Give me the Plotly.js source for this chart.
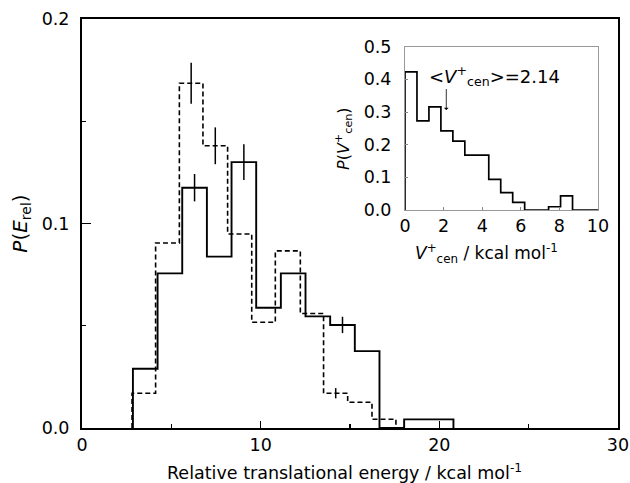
<!DOCTYPE html>
<html><head><meta charset="utf-8">
<script src="https://cdn.plot.ly/plotly-3.0.1.min.js"></script>
<style>html,body{margin:0;padding:0;background:#fff}</style>
</head><body><div id="chart" style="width:630px;height:483px"></div>
<script>
// Main histogram (solid)
const solidEdges = [2.85, 4.23, 5.61, 6.99, 8.37, 9.75, 11.13, 12.51, 13.89, 15.27, 16.65, 18.03, 19.41, 20.79];
const solidValues = [0.029, 0.0756, 0.1175, 0.0838, 0.130, 0.0588, 0.0756, 0.0546, 0.0504, 0.0376, 0, 0.0042, 0.0042];
// Main histogram (dashed)
const dashedEdges = [2.80, 4.12, 5.45, 6.77, 8.15, 9.50, 10.82, 12.22, 13.52, 14.87, 16.23, 17.57];
const dashedValues = [0.017, 0.0905, 0.1686, 0.138, 0.0949, 0.0517, 0.0866, 0.056, 0.017, 0.0126, 0.0043];
// Error bars
const solidErrX = [6.30, 9.06, 14.58];
const solidErrY = [0.1175, 0.130, 0.0504];
const solidErr = [0.0067, 0.0087, 0.004];
const dashedErrX = [6.11, 7.46, 14.20];
const dashedErrY = [0.1686, 0.138, 0.017];
const dashedErr = [0.010, 0.009, 0.0025];
// Inset histogram
const insetEdges = [0, 0.62, 1.24, 1.86, 2.48, 3.10, 3.72, 4.34, 4.96, 5.58, 6.20, 6.82, 7.44, 8.06, 8.68, 10];
const insetValues = [0.423, 0.273, 0.316, 0.242, 0.211, 0.168, 0.168, 0.094, 0.053, 0.0235, 0, 0, 0.010, 0.043, 0];
const meanV = 2.14;
const meanLabel = '&lt;<i>V</i><sup>+</sup><sub>cen</sub>&gt;=2.14';
const xTickVals = [0, 10, 20, 30];
const yTickVals = [0, 0.1, 0.2];

function stepXY(edges, values) {
  return { x: [edges[0]].concat(edges), y: [0].concat(values, [0]) };
}

const FONT = 'DejaVu Sans, Liberation Sans, Arial, sans-serif';
const s = stepXY(solidEdges, solidValues);
const d = stepXY(dashedEdges, dashedValues);
const ins = stepXY(insetEdges, insetValues);

const traces = [
  { x: d.x, y: d.y, mode: 'lines', line: { shape: 'hv', color: '#000', width: 1.6, dash: '5px,3px' }, xaxis: 'x', yaxis: 'y', hoverinfo: 'skip' },
  { x: s.x, y: s.y, mode: 'lines', line: { shape: 'hv', color: '#000', width: 1.9 }, xaxis: 'x', yaxis: 'y', hoverinfo: 'skip' },
  { x: solidErrX, y: solidErrY, mode: 'markers', marker: { size: 1, color: 'rgba(0,0,0,0)' },
    error_y: { type: 'data', array: solidErr, visible: true, color: '#000', thickness: 1.5, width: 0 }, xaxis: 'x', yaxis: 'y' },
  { x: dashedErrX, y: dashedErrY, mode: 'markers', marker: { size: 1, color: 'rgba(0,0,0,0)' },
    error_y: { type: 'data', array: dashedErr, visible: true, color: '#000', thickness: 1.5, width: 0 }, xaxis: 'x', yaxis: 'y' },
  { x: ins.x, y: ins.y, mode: 'lines', line: { shape: 'hv', color: '#000', width: 1.7 }, xaxis: 'x2', yaxis: 'y2', hoverinfo: 'skip' }
];

const layout = {
  width: 630, height: 483,
  margin: { l: 82, r: 12, t: 19, b: 55 },
  paper_bgcolor: '#fff', plot_bgcolor: 'rgba(0,0,0,0)',
  showlegend: false,
  font: { family: FONT, color: '#000', size: 17 },
  xaxis: {
    range: [0, 30], tickvals: xTickVals, ticks: 'inside', ticklen: 7, tickwidth: 1.5, tickcolor: '#000',
    showline: true, linewidth: 2, linecolor: '#000', mirror: true, showgrid: false, zeroline: false,
    tickfont: { family: FONT, size: 17.5 },
    minor: { dtick: 5, ticks: 'inside', ticklen: 4, tickwidth: 1.2, tickcolor: '#000', showgrid: false }
  },
  yaxis: {
    range: [0, 0.2], tickvals: yTickVals, tickformat: '.1f', ticks: 'inside', ticklen: 9, tickwidth: 1.5, tickcolor: '#000',
    showline: true, linewidth: 2, linecolor: '#000', mirror: true, showgrid: false, zeroline: false,
    tickfont: { family: FONT, size: 17.5 }, ticklabelstandoff: 7,
    minor: { dtick: 0.05, ticks: 'inside', ticklen: 4, tickwidth: 1.2, tickcolor: '#000', showgrid: false },
    title: { text: '<i>P</i>(<i>E</i><sub>rel</sub>)', font: { family: FONT, size: 20 }, standoff: 9 }
  },
  xaxis2: {
    domain: [0.6026, 0.9627], anchor: 'y2', range: [0, 10], dtick: 2, ticks: 'inside', ticklen: 3, tickwidth: 1, tickcolor: '#888',
    showline: true, linewidth: 1, linecolor: '#999', mirror: true, showgrid: false, zeroline: false,
    tickfont: { family: FONT, size: 17.5 }
  },
  yaxis2: {
    domain: [0.533, 0.9323], anchor: 'x2', range: [0, 0.5], dtick: 0.1, tickformat: '.1f', ticks: 'inside', ticklen: 3, tickwidth: 1, tickcolor: '#888',
    showline: true, linewidth: 1, linecolor: '#999', mirror: true, showgrid: false, zeroline: false,
    tickfont: { family: FONT, size: 17.5 }, ticklabelstandoff: 9
  },
  annotations: [
    { xref: 'paper', yref: 'paper', x: (344 - 82) / 536, y: (428 - 472) / 409, xanchor: 'center', yanchor: 'middle',
      text: 'Relative translational energy / kcal mol<sup>-1</sup>', showarrow: false, font: { family: FONT, size: 17.5 } },
    { xref: 'x2', yref: 'y2', x: meanV, y: 0.306, ax: meanV, ay: 0.375, axref: 'x2', ayref: 'y2',
      text: '', showarrow: true, arrowhead: 1, arrowsize: 1, arrowwidth: 0.8, arrowcolor: '#000' },
    { xref: 'x2', yref: 'y2', x: 1.12, y: 0.41, xanchor: 'left', yanchor: 'middle', text: meanLabel,
      showarrow: false, font: { family: FONT, size: 18 } },
    { xref: 'paper', yref: 'paper', x: (486 - 82) / 536, y: (428 - 254) / 409, xanchor: 'center', yanchor: 'middle',
      text: '<i>V</i><sup>+</sup><sub>cen</sub> / kcal mol<sup>-1</sup>', showarrow: false, font: { family: FONT, size: 17 } },
    { xref: 'paper', yref: 'paper', x: (343 - 82) / 536, y: (428 - 139) / 409, xanchor: 'center', yanchor: 'middle', textangle: -90,
      text: '<i>P</i>(<i>V</i><sup>+</sup><sub>cen</sub>)', showarrow: false, font: { family: FONT, size: 16 } }
  ]
};

Plotly.newPlot('chart', traces, layout, { staticPlot: true, displayModeBar: false });
</script>
</body></html>
